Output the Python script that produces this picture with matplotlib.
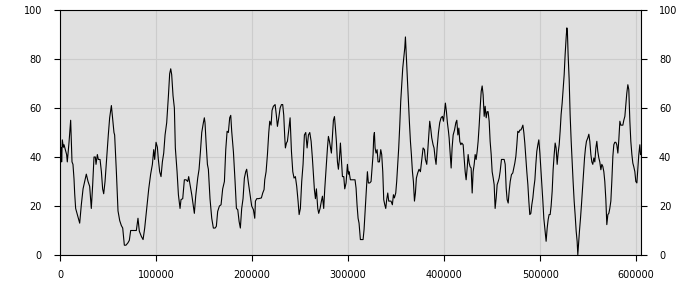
import numpy as np
import matplotlib
matplotlib.use('Agg')
import matplotlib.pyplot as plt

# values; x in thousands, one list pair per stretch
x_a = [
    1.4, 1.7, 2.4, 3.5, 4.2, 5.6, 6.9, 7.6, 9.4, 11.1, 11.8, 12.5, 13.5, 14.6, 15.3, 16.3, 18.1,
    20.5, 22.2, 24.0, 25.7, 27.4, 29.2, 30.9, 32.6, 34.0, 35.4, 36.8, 37.5, 38.9, 39.9, 41.7,
    43.1, 44.4, 45.5, 46.9, 49.0, 50.3, 51.7, 53.5, 54.5, 56.2, 56.9, 58.7, 60.4, 62.2, 63.9,
    65.3, 67.0, 68.7, 70.8, 72.2, 73.6, 76.0, 79.5, 81.2, 82.6, 84.7, 86.5, 88.2, 90.3, 92.4,
    94.4, 96.2, 97.6, 98.6, 100.0, 101.4,
]
y_a = [
    43.7, 38, 47, 44, 45, 43, 41, 38, 46, 55, 47, 38, 37, 31, 25, 19, 16.5,
    13, 20.5, 27, 30, 33, 30, 28, 19, 28.5, 40, 40, 37, 41, 39, 39,
    34, 27, 25, 30, 42, 49, 56, 61, 57, 50, 49, 34, 18, 14, 12,
    11, 4, 4, 5, 6, 10, 10, 10, 15, 9.7, 7.6, 6.3, 11, 19, 27,
    33, 37, 43, 39, 46, 44,
]

x_b = [
    102.4, 103.8, 105.2, 106.6, 108.0, 109.4, 111.1, 112.9, 114.2, 115.3, 116.3, 117.7, 119.1,
    120.1, 121.9, 123.3, 125.0, 126.0, 127.8, 129.5, 131.3, 133.0, 134.0, 135.4, 137.2, 138.9,
    139.9, 141.3, 143.4, 144.8, 146.2, 147.6, 149.3, 150.3, 151.0, 152.1, 153.5, 154.5, 156.2,
    158.0, 159.7, 161.5, 162.8, 164.2, 166.0, 167.7, 169.4, 171.2, 172.6, 174.0, 175.3, 176.7,
    177.8, 178.8, 180.6, 182.3, 183.7, 185.1, 186.5, 187.8, 189.2, 190.6, 192.0, 193.4, 194.4,
    196.2, 197.9, 199.6, 201.4, 202.8,
]
y_b = [
    39, 34, 32, 38, 41.6, 49, 54, 65, 74, 76, 73.6, 65, 60,
    43.7, 34, 24.6, 19, 22.6, 23, 30.7, 30.7, 30, 32, 28.7, 24.6, 20,
    17, 24, 31.4, 35, 42, 50, 54, 56, 54, 46, 37, 35, 23,
    15, 11, 11, 11.7, 17.8, 20, 20.5, 27, 30, 43, 50.5, 50, 56,
    57, 50.5, 42, 30, 19, 18.5, 13.7, 11, 19, 23, 31.4, 34, 35,
    29.4, 24.6, 20, 18.5, 15,
]

x_c = [
    203.5, 204.9, 206.9, 209.7, 211.1, 212.5, 213.2, 214.6, 216.0, 217.4, 218.4, 219.8, 220.8,
    222.2, 224.0, 225.3, 226.4, 227.8, 229.2, 230.6, 231.9, 233.0, 234.0, 234.7, 235.8, 236.8,
    238.2, 239.6, 241.0, 242.4, 243.7, 245.1, 246.5, 247.9, 249.0, 250.3, 251.7, 253.1, 254.5,
    255.9, 257.3, 258.7, 260.1, 261.5, 262.8, 263.9, 264.9, 266.0, 267.0, 268.4, 269.4, 270.8,
    272.2, 273.3, 274.6, 275.7, 277.1, 278.5, 279.5, 280.6, 281.6, 282.6, 283.7, 284.7, 285.8,
    286.8, 287.8, 288.9, 289.9, 291.0, 292.0, 293.0, 294.1, 295.5, 296.5, 297.9, 299.3, 300.3,
]
y_c = [
    22, 23, 23, 23.3, 25.3, 26.7, 30.7, 34, 41, 50, 54.6, 53, 59,
    60.7, 61.4, 57, 52.5, 56, 60, 61.4, 61.4, 57, 48.4, 43.7, 45.7, 46.4,
    51, 56, 42.3, 34, 31.4, 32, 28, 22, 16.5, 19, 30, 37, 49,
    50, 43.7, 49, 50, 46.4, 39.6, 33, 26.7, 23, 27, 19, 17, 19,
    22, 24, 19, 27, 35.5, 43.7, 48.4, 46.4, 44, 41.6, 48.4, 55, 56.5,
    51.8, 46.4, 38, 35, 39.6, 45.7, 39, 32, 32, 27, 29.4, 37, 33,
]

x_d = [
    301.0, 302.4, 304.5, 307.2, 308.3, 309.3, 310.4, 311.4, 312.8, 314.2, 315.6, 316.6, 317.7,
    318.7, 320.1, 321.1, 322.5, 323.9, 324.6, 326.0, 326.7, 327.4, 328.1, 329.1, 330.2, 331.2,
    332.6, 334.0, 335.0, 336.1, 337.1, 338.2, 339.2, 340.2, 341.3, 342.3, 343.4, 344.7, 346.1,
    347.2, 348.2, 349.6, 350.6, 351.7, 352.7, 353.8, 354.8, 355.9, 356.9, 357.9, 359.0, 359.7,
    360.4, 361.4, 362.5, 363.8, 364.9, 365.9, 367.0, 368.0, 369.1, 370.1, 371.1, 372.5, 373.9,
    375.3, 376.7, 378.1, 379.5, 380.5, 381.9, 382.9, 384.0, 385.0, 386.1, 387.1, 388.5, 389.5,
    390.6, 391.6, 392.7, 394.1, 395.4, 396.8, 398.2, 399.3, 400.3, 401.3, 402.4, 403.4, 404.5,
]
y_d = [
    34, 30.7, 30.7, 30.7, 27.3, 20.5, 15, 13, 6.3, 6.3, 6.3, 10.3, 17.8,
    24.6, 34, 29.4, 29.4, 30, 33.5, 41, 48.4, 50, 43.7, 41.6, 43, 38,
    38, 43, 41, 34, 22.6, 20.5, 19, 22.6, 25.3, 22, 22, 22, 20.5,
    24.6, 23.3, 25.3, 30, 37, 43.7, 53, 62.7, 69.5, 76.3, 80.4, 84.5, 89,
    83, 73.6, 65.4, 54.5, 46.4, 41, 34, 30, 22, 25.3, 31.4, 33.5, 35,
    34, 39, 43.7, 43, 39, 37, 42.3, 49, 54.6, 51.4, 47.8, 45, 43.7,
    39.6, 37, 43.7, 50, 54, 56, 56.6, 54.6, 58, 62, 58.5, 54, 50.5,
]

x_e = [
    405.2, 406.3, 407.3, 408.3, 409.4, 410.8, 412.2, 413.2, 414.3, 415.3, 416.3, 417.4, 418.4,
    419.8, 420.8, 421.9, 422.9, 424.0, 425.0, 426.1, 427.1, 428.1, 429.2, 430.2, 431.3, 432.3,
    433.3, 434.4, 435.4, 436.5, 437.5, 438.6, 439.6, 440.6, 441.7, 442.7, 443.8, 444.8, 445.8,
    446.9, 447.9, 449.0, 450.0, 451.1, 452.1, 453.1, 454.2, 455.2, 456.3, 457.3, 458.3, 459.7,
    461.1, 462.5, 463.6, 464.6, 465.6, 466.7, 467.7, 468.8, 470.1, 471.5, 472.6, 473.6, 474.7,
    475.7, 476.7, 477.8, 478.8, 479.9, 480.9, 482.0, 483.0, 484.0, 485.1, 486.1, 487.2, 488.2,
    489.2, 490.3, 491.3, 492.4, 493.4, 494.5, 495.5, 496.5, 497.6, 498.6, 499.7, 500.7, 501.7,
    502.8, 503.8,
]
y_e = [
    47.8, 41, 35.5, 43.7, 49, 51, 54, 55, 49, 51.8, 46.4, 45, 45.7,
    45, 39.6, 34, 30.7, 35.5, 41, 37.5, 36, 35.5, 25.3, 34, 37, 41,
    39, 42.3, 46.4, 53, 60, 66.8, 69, 65.4, 56.6, 60.7, 56, 58.5, 58.5,
    54.6, 46.4, 41, 34, 31.4, 28.7, 19, 23.3, 28.7, 30, 31.4, 34, 39,
    39, 39, 37, 27.3, 22.6, 21.2, 26, 30, 32.8, 33.5, 35.5, 37.5, 40.3,
    45, 50.5, 50, 51, 51, 51.8, 53, 50, 45.7, 39.6, 34, 28.7, 22,
    16.5, 17, 20.5, 23.3, 27.3, 30.7, 37, 42.3, 45, 47, 41.6, 35.5, 28.7,
    22, 15,
]

x_f = [
    505.2, 506.2, 507.3, 508.3, 509.3, 510.4, 511.4, 512.5, 513.5, 514.6, 515.6, 516.6, 517.7,
    518.7, 519.8, 520.8, 521.8, 522.9, 523.9, 525.0, 526.0, 527.1, 527.8, 528.4, 529.1, 530.2,
    531.2, 532.3, 533.3, 534.3, 535.4, 536.4, 537.5, 538.5, 539.2, 539.9, 540.9, 542.0, 543.0,
    544.1, 545.1, 546.2, 547.2, 548.2, 549.6, 550.7, 551.7, 552.8, 553.8, 554.8, 555.9, 556.9,
    558.0, 559.0, 560.0, 561.1, 562.1, 563.2, 564.2, 565.2, 566.3, 567.3, 568.4, 569.4, 570.5,
    571.5, 572.5, 573.6, 574.6, 575.7, 576.7, 577.7, 578.8, 579.8, 580.9, 581.9, 583.0, 584.0,
    585.0, 586.1, 587.1, 588.2, 589.2, 590.2, 591.3, 592.3, 593.4, 594.4, 595.5, 596.5, 597.5,
    598.6, 599.6, 600.7, 601.7, 602.7, 603.8, 604.5,
]
y_f = [
    9.7, 5.6, 11, 14.4, 16.5, 16.5, 20, 26, 34.8, 41, 45.7, 43.7, 37,
    41.6, 45, 50.5, 57.3, 62, 67.5, 73.6, 81.8, 89, 92.7, 90.7, 81.8, 71.5,
    57.3, 46.4, 38, 30, 22, 16.5, 9.7, 5.6, 0.1, 4.2, 9.7, 15, 20.5,
    27.3, 32.8, 39.6, 43.7, 46.4, 47.8, 49.3, 46.4, 41, 38, 37, 39.6, 38,
    43.7, 46.4, 42.3, 39.6, 38, 34.8, 37, 36.2, 34, 30, 22.6, 12.4, 16.5,
    17, 19, 22, 30, 40.3, 45, 46, 46, 45, 41.6, 47, 54.6, 53,
    53, 53, 55, 56.6, 61.4, 66, 69.5, 67.5, 54.6, 46.4, 41, 37.5, 36,
    34, 30, 29.4, 35.5, 41, 45, 41,
]

x = np.array(x_a + x_b + x_c + x_d + x_e + x_f) * 1000
y = np.array(y_a + y_b + y_c + y_d + y_e + y_f)

fig = plt.figure(figsize=(7, 3), dpi=100)
ax = fig.add_axes([60 / 700, 45 / 300, 581 / 700, 245 / 300])
ax.set_facecolor('#e0e0e0')
ax.plot(x, y, color='black', linewidth=0.8)

ax.set_xlim(0, 605000)
ax.set_ylim(0, 100)
ax.set_xticks(np.arange(0, 600001, 100000))
ax.set_yticks(np.arange(0, 101, 20))
ax.ticklabel_format(axis='x', style='plain')
ax.grid(True, color='#cccccc', linewidth=0.8)
ax.set_axisbelow(True)
for s in ax.spines.values():
    s.set_color('black')
    s.set_linewidth(0.8)

ax.tick_params(axis='both', labelsize=7, colors='black', length=4, width=0.8)
ax.tick_params(axis='y', left=True, right=True, labelleft=True, labelright=True, pad=9)
ax.tick_params(axis='x', pad=7)

fig.savefig('out.png', dpi=100)
